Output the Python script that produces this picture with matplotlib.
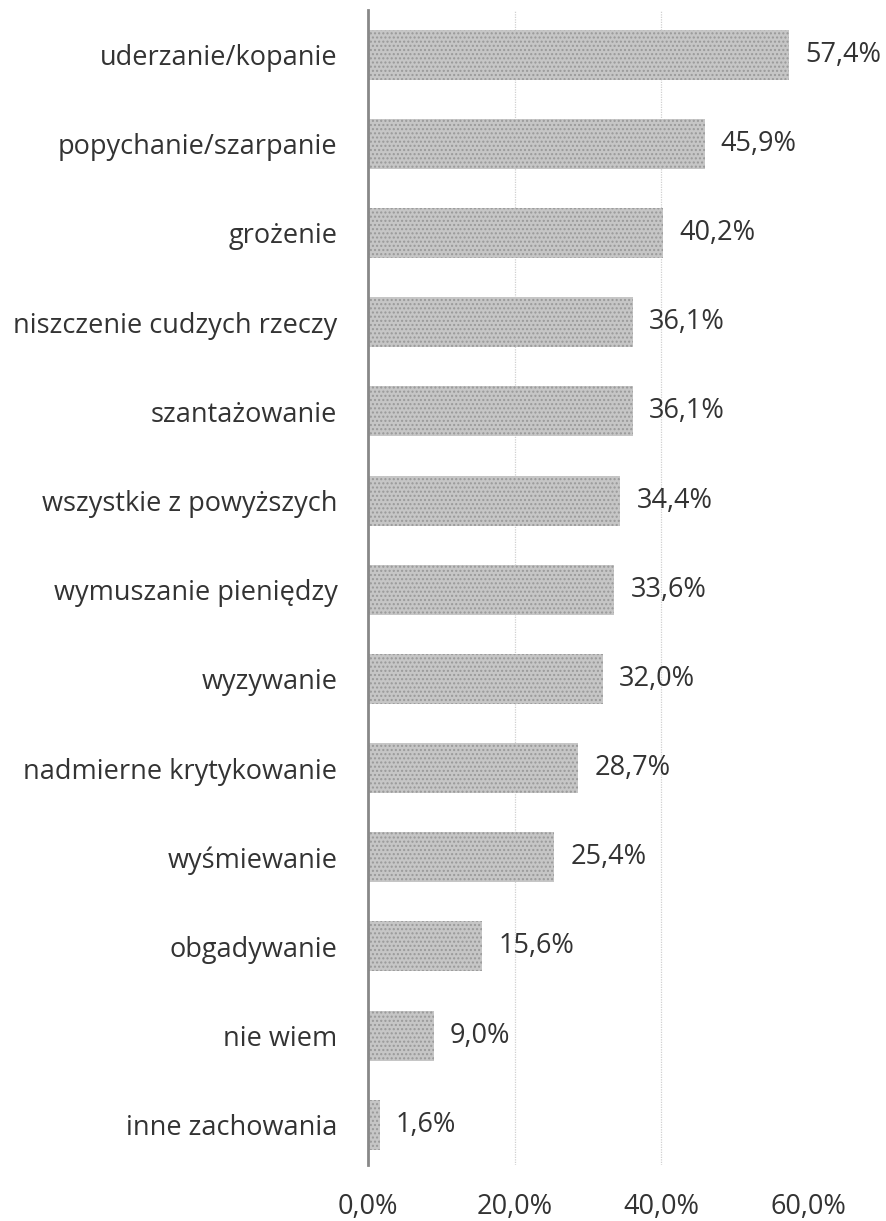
import matplotlib
matplotlib.use("Agg")
import matplotlib.pyplot as plt

categories = ["uderzanie/kopanie", "popychanie/szarpanie", "grożenie",
              "niszczenie cudzych rzeczy", "szantażowanie", "wszystkie z powyższych",
              "wymuszanie pieniędzy", "wyzywanie", "nadmierne krytykowanie",
              "wyśmiewanie", "obgadywanie", "nie wiem", "inne zachowania"]
values = [57.4, 45.9, 40.2, 36.1, 36.1, 34.4, 33.6, 32.0, 28.7, 25.4, 15.6, 9.0, 1.6]
xticks = [0, 20, 40, 60]

plt.rcParams['font.family'] = ['Open Sans', 'DejaVu Sans']
plt.rcParams['hatch.linewidth'] = 1.0

fig = plt.figure(figsize=(8.86, 12.21), dpi=100)
ax = fig.add_axes([0.4153, 0.0459, 0.4966, 0.9459])

ypos = list(range(len(categories)))
ax.barh(ypos, values, height=0.56, color='#c6c6c6', edgecolor='#999999',
        hatch='....', linewidth=0)

fs = 19.5
for y, v in zip(ypos, values):
    ax.text(v + 2.2, y, f"{v:.1f}%".replace('.', ','), va='center', ha='left',
            fontsize=fs, color='#333333')

ax.set_xlim(0, 60)
ax.set_ylim(len(categories) - 0.55, -0.5)
ax.set_yticks(ypos)
ax.set_yticklabels(categories, fontsize=fs, color='#333333')
ax.set_xticks(xticks)
ax.set_xticklabels([f"{t:.1f}%".replace('.', ',') for t in xticks], fontsize=fs, color='#333333')
ax.tick_params(axis='y', length=0, pad=22)
ax.tick_params(axis='x', length=0, pad=20)

for s in ['top', 'right', 'bottom']:
    ax.spines[s].set_visible(False)
ax.spines['left'].set_color('#888888')
ax.spines['left'].set_linewidth(2.0)

for x in [20, 40]:
    ax.axvline(x, color='#d0d0d0', linewidth=0.9, linestyle=(0, (1, 1)), zorder=0)

fig.savefig("out.png", dpi=100, facecolor='white')
